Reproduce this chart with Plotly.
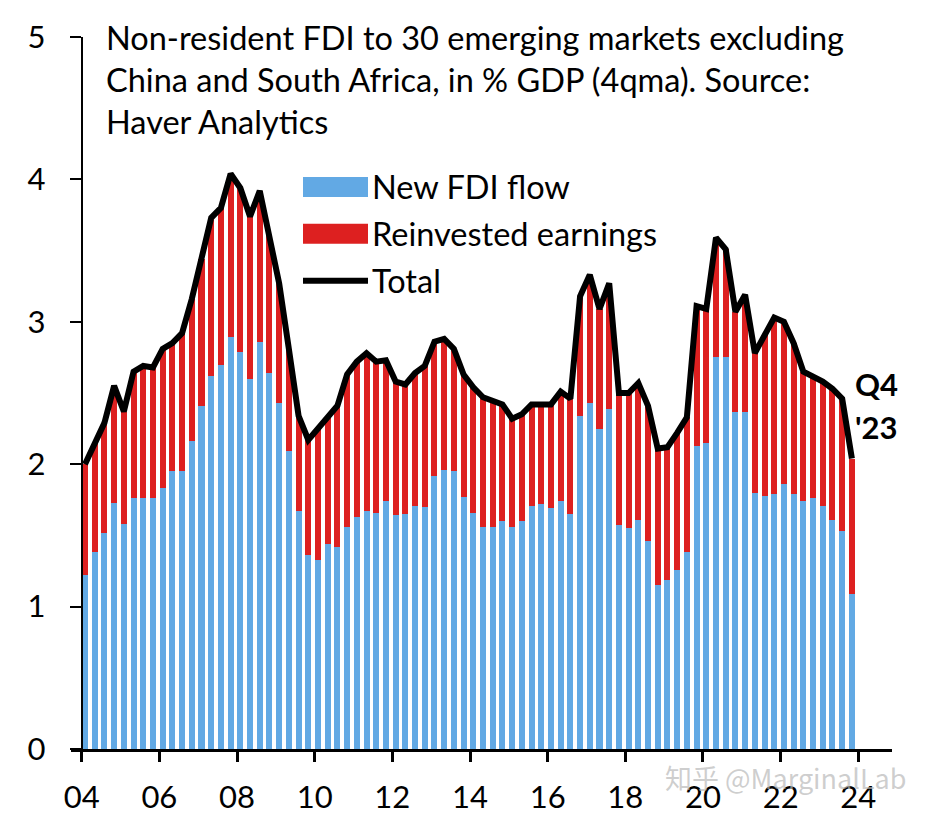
import plotly.graph_objects as go

# ---------------- data ----------------
years = list(range(2004, 2024))
quarters = [f"{y}Q{q}" for y in years for q in range(1, 5)]

new_fdi = [
    1.22, 1.38, 1.52, 1.73, 1.58, 1.76, 1.76, 1.76, 1.83, 1.95,
    1.95, 2.16, 2.41, 2.62, 2.70, 2.89, 2.79, 2.60, 2.86, 2.64,
    2.43, 2.09, 1.67, 1.36, 1.33, 1.44, 1.42, 1.56, 1.63, 1.67,
    1.66, 1.74, 1.64, 1.65, 1.71, 1.70, 1.92, 1.96, 1.95, 1.77,
    1.66, 1.56, 1.56, 1.60, 1.56, 1.60, 1.71, 1.72, 1.69, 1.74,
    1.65, 2.34, 2.43, 2.25, 2.39, 1.57, 1.55, 1.61, 1.46, 1.15,
    1.19, 1.26, 1.38, 2.13, 2.15, 2.75, 2.75, 2.37, 2.37, 1.80,
    1.78, 1.79, 1.86, 1.79, 1.74, 1.76, 1.71, 1.61, 1.53, 1.09,
]
reinvested = [
    0.78, 0.77, 0.77, 0.82, 0.79, 0.89, 0.93, 0.92, 0.98, 0.90,
    0.97, 1.00, 1.03, 1.11, 1.10, 1.15, 1.15, 1.14, 1.06, 0.97,
    0.84, 0.72, 0.67, 0.81, 0.92, 0.90, 0.99, 1.07, 1.09, 1.11,
    1.06, 0.99, 0.94, 0.91, 0.93, 0.99, 0.94, 0.92, 0.86, 0.86,
    0.88, 0.91, 0.89, 0.82, 0.76, 0.75, 0.71, 0.70, 0.73, 0.77,
    0.81, 0.84, 0.90, 0.84, 0.88, 0.93, 0.95, 0.96, 0.95, 0.96,
    0.93, 0.96, 0.95, 0.98, 0.94, 0.84, 0.76, 0.70, 0.82, 0.98,
    1.13, 1.24, 1.14, 1.06, 0.91, 0.86, 0.87, 0.92, 0.93, 0.95,
]
total = [round(a + b, 2) for a, b in zip(new_fdi, reinvested)]

x_tick_vals = list(range(2004, 2025, 2))
x_tick_text = ["04", "06", "08", "10", "12", "14", "16", "18", "20", "22", "24"]
y_tick_vals = [0, 1, 2, 3, 4, 5]

title_lines = [
    "Non-resident FDI to 30 emerging markets excluding",
    "China and South Africa, in % GDP (4qma). Source:",
    "Haver Analytics",
]
legend_names = ["New FDI flow", "Reinvested earnings", "Total"]

# ---------------- styling ----------------
BLUE = "#62a9e4"
RED = "#dd2020"
FONT = "Lato"
W, H = 936, 822
L, R, T, B = 71, 44, 37, 72.5
PW, PH = W - L - R, H - T - B


def px_x(px):
    return (px - L) / PW


def px_y(py):
    return (H - B - py) / PH


def qpos(label):
    y = int(label[:4])
    q = int(label[-1])
    return y + (q - 1) * 0.25 + 0.085


xs = [qpos(q) for q in quarters]

fig = go.Figure()
fig.add_trace(go.Bar(x=xs, y=new_fdi, width=0.155, marker=dict(color=BLUE, line=dict(width=0)),
                     name=legend_names[0], showlegend=False))
fig.add_trace(go.Bar(x=xs, y=reinvested, width=0.155, marker=dict(color=RED, line=dict(width=0)),
                     name=legend_names[1], showlegend=False))
fig.add_trace(go.Scatter(x=xs, y=total, mode="lines", line=dict(color="black", width=6),
                         name=legend_names[2], showlegend=False))

x0 = 2004 - (81.7 - L) / 38.83
x1 = 2024 + (W - R - 858.3) / 38.83

fig.update_layout(
    width=W, height=H,
    margin=dict(l=L, r=R, t=T, b=B, pad=0, autoexpand=False),
    paper_bgcolor="white", plot_bgcolor="white",
    barmode="stack",
    font=dict(family=FONT, size=30, color="black"),
    xaxis=dict(range=[x0, x1], tickmode="array", tickvals=x_tick_vals, ticktext=x_tick_text,
               ticks="outside", ticklen=10, tickwidth=2.5, tickcolor="black",
               showline=True, linecolor="black", linewidth=3, automargin=False,
               showgrid=False, zeroline=False, ticklabelstandoff=9,
               tickfont=dict(family=FONT, size=31)),
    yaxis=dict(range=[0, 5], tickmode="array", tickvals=y_tick_vals,
               anchor="free", position=(81.7 - L) / PW, automargin=False,
               ticks="outside", ticklen=11, tickwidth=2, tickcolor="black",
               showline=True, linecolor="black", linewidth=2,
               showgrid=False, zeroline=False, ticklabelstandoff=18,
               tickfont=dict(family=FONT, size=31)),
)

annotations = []
for i, line in enumerate(title_lines):
    annotations.append(dict(text=line, xref="paper", yref="paper", x=px_x(104), y=px_y(38 + 42 * i),
                            xanchor="left", yanchor="middle", showarrow=False,
                            font=dict(family=FONT, size=32.5, color="black")))

# custom legend
shapes = []
leg_y = [187, 234, 281]
shapes.append(dict(type="rect", xref="paper", yref="paper", x0=px_x(303), x1=px_x(368),
                   y0=px_y(197), y1=px_y(177), fillcolor=BLUE, line=dict(width=0)))
shapes.append(dict(type="rect", xref="paper", yref="paper", x0=px_x(303), x1=px_x(368),
                   y0=px_y(244), y1=px_y(224), fillcolor=RED, line=dict(width=0)))
shapes.append(dict(type="line", xref="paper", yref="paper", x0=px_x(303), x1=px_x(368),
                   y0=px_y(281), y1=px_y(281), line=dict(color="black", width=6)))
for name, yy in zip(legend_names, leg_y):
    annotations.append(dict(text=name, xref="paper", yref="paper", x=px_x(370), y=px_y(yy),
                            xanchor="left", yanchor="middle", showarrow=False,
                            font=dict(family=FONT, size=32.5, color="black")))

# end label
annotations.append(dict(text="<b>Q4</b>", xref="paper", yref="paper", x=px_x(853), y=px_y(384),
                        xanchor="left", yanchor="middle", showarrow=False,
                        font=dict(family=FONT, size=31, color="black")))
annotations.append(dict(text="<b>'23</b>", xref="paper", yref="paper", x=px_x(853), y=px_y(427),
                        xanchor="left", yanchor="middle", showarrow=False,
                        font=dict(family=FONT, size=31, color="black")))

# watermark
annotations.append(dict(text="知乎 @MarginalLab", xref="paper", yref="paper", x=px_x(663), y=px_y(778),
                        xanchor="left", yanchor="middle", showarrow=False,
                        font=dict(family="Noto Sans CJK SC", size=27, color="rgba(185,185,185,0.7)")))

fig.update_layout(annotations=annotations, shapes=shapes)
fig.write_html("out.html")
